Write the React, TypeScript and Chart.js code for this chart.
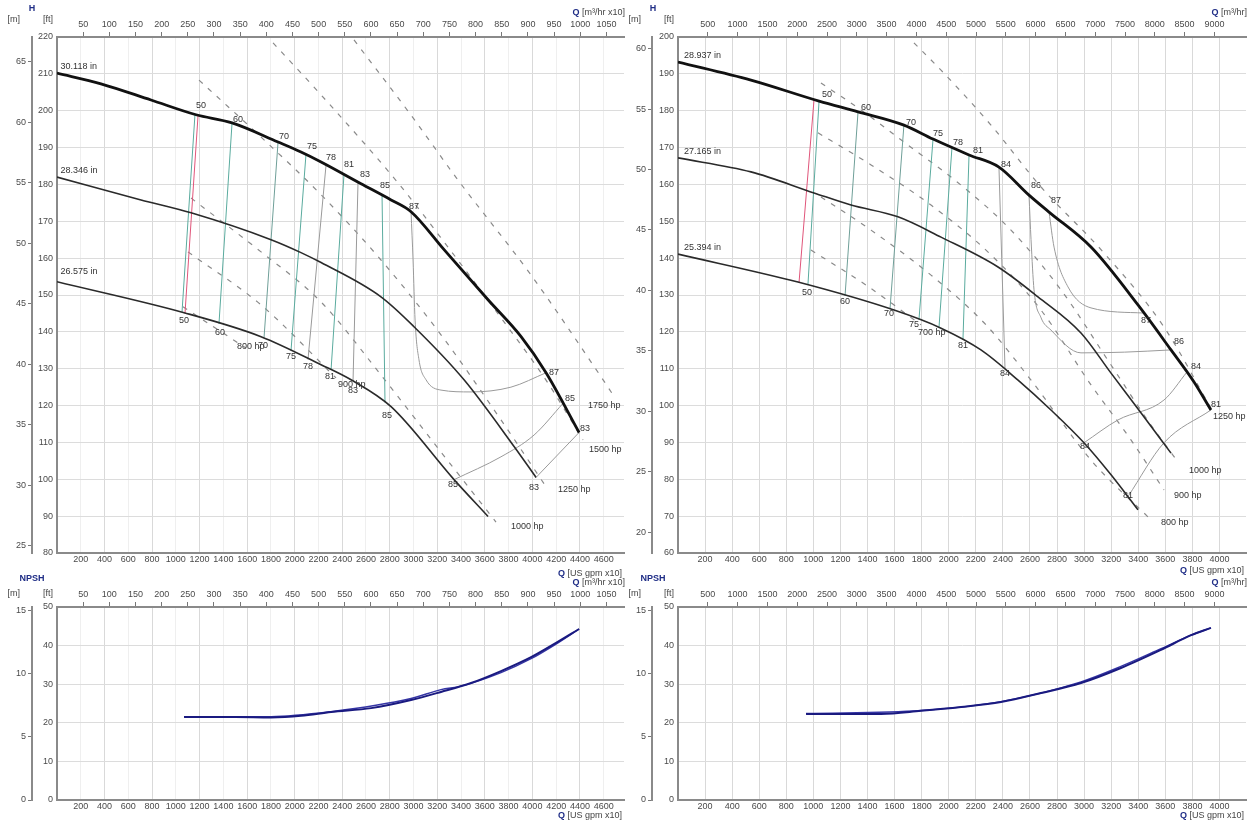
import React, { useEffect, useRef } from 'react';
import { Chart, registerables } from 'chart.js';

Chart.register(...registerables);

const FT_PER_M = 3.28084;
const GPM_PER_M3H = 4.4029;
const FONT = '"Liberation Sans", Arial, Helvetica, sans-serif';
const NAVY = '#1f2d86';

// ---------- tick labels ----------
const TL_GPM_TICKS = [200, 400, 600, 800, 1000, 1200, 1400, 1600, 1800, 2000, 2200, 2400, 2600, 2800, 3000, 3200, 3400, 3600, 3800, 4000, 4200, 4400, 4600];
const TL_M3H_TICKS = [50, 100, 150, 200, 250, 300, 350, 400, 450, 500, 550, 600, 650, 700, 750, 800, 850, 900, 950, 1000, 1050];
const TL_FT_TICKS = [80, 90, 100, 110, 120, 130, 140, 150, 160, 170, 180, 190, 200, 210, 220];
const TL_M_TICKS = [25, 30, 35, 40, 45, 50, 55, 60, 65];
const TR_GPM_TICKS = [200, 400, 600, 800, 1000, 1200, 1400, 1600, 1800, 2000, 2200, 2400, 2600, 2800, 3000, 3200, 3400, 3600, 3800, 4000];
const TR_M3H_TICKS = [500, 1000, 1500, 2000, 2500, 3000, 3500, 4000, 4500, 5000, 5500, 6000, 6500, 7000, 7500, 8000, 8500, 9000];
const TR_FT_TICKS = [60, 70, 80, 90, 100, 110, 120, 130, 140, 150, 160, 170, 180, 190, 200];
const TR_M_TICKS = [20, 25, 30, 35, 40, 45, 50, 55, 60];
const NP_FT_TICKS = [0, 10, 20, 30, 40, 50];
const NP_M_TICKS = [0, 5, 10, 15];

// ---------- top-left: impeller curves (Q = US gpm x10, H = ft) ----------
const TL_Q_D1 = [0, 370, 791, 1170, 1473, 1860, 2053, 2222, 2558, 2811, 2979, 3257, 3627, 3905, 4115, 4393];
const TL_H_D1 = [210.2, 207.3, 202.9, 198.9, 196.7, 191.5, 188.8, 186.1, 180.2, 175.8, 172.6, 162.3, 148.7, 138.7, 128.9, 112.7];
const TL_Q_D2 = [0, 707, 1128, 1801, 2053, 2222, 2726, 3004, 3425, 3846, 4031];
const TL_H_D2 = [182.0, 175.8, 172.3, 165.0, 161.5, 158.8, 149.5, 141.4, 127.0, 108.9, 100.5];
const TL_Q_D3 = [0, 1069, 1717, 2222, 2474, 2811, 3341, 3627];
const TL_H_D3 = [153.6, 145.2, 138.7, 131.1, 127.0, 119.7, 99.9, 89.9];
// efficiency lines
const TL_Q_RED = [1187, 1077]; const TL_H_RED = [198.8, 145.0];
const TL_Q_E50 = [1161, 1052]; const TL_H_E50 = [199.0, 145.4];
const TL_Q_E60 = [1473, 1363]; const TL_H_E60 = [196.7, 142.2];
const TL_Q_E70 = [1860, 1742]; const TL_H_E70 = [191.5, 138.4];
const TL_Q_E75 = [2095, 1969]; const TL_H_E75 = [188.1, 134.9];
const TL_Q_E78 = [2264, 2112]; const TL_H_E78 = [185.3, 132.5];
const TL_Q_E81 = [2415, 2306]; const TL_H_E81 = [182.7, 129.7];
const TL_Q_E83A = [2533, 2491]; const TL_H_E83A = [180.6, 126.7];
const TL_Q_E85A = [2735, 2760]; const TL_H_E85A = [177.1, 120.8];
const TL_Q_E87 = [2979, 2996, 3013, 3046, 3105, 3231, 3484, 3820, 4115];
const TL_H_E87 = [172.6, 159.5, 143.2, 132.4, 127.0, 124.2, 123.7, 125.0, 128.9];
const TL_Q_E83B = [4031, 4393]; const TL_H_E83B = [100.5, 112.7];
const TL_Q_E85B = [3341, 3736, 4014, 4258]; const TL_H_E85B = [99.9, 106.1, 112.0, 120.6];
// power lines
const TL_Q_P1750 = [2499, 2979, 3374, 3989, 4578, 4679]; const TL_H_P1750 = [219.2, 198.8, 181.2, 155.4, 127.8, 122.9];
const TL_Q_P1500 = [1818, 2222, 2870, 3290, 3736, 4115, 4426]; const TL_H_P1500 = [218.4, 204.3, 180.4, 163.0, 143.8, 126.9, 110.7];
const TL_Q_P1250 = [1195, 1742, 2222, 2726, 3231, 3736, 4123]; const TL_H_P1250 = [208.3, 192.1, 177.2, 159.5, 139.2, 116.1, 97.6];
const TL_Q_P1000 = [1128, 1717, 2222, 2726, 3231, 3694]; const TL_H_P1000 = [176.3, 161.7, 148.1, 128.3, 107.4, 88.4];
const TL_Q_P900 = [1102, 1717, 2348]; const TL_H_P900 = [161.7, 147.3, 127.5];
const TL_Q_P800 = [1060, 1590]; const TL_H_P800 = [146.8, 135.6];
const TL_LABELS: [string, number, number, CanvasTextAlign][] = [
  ['30.118 in', 30, 212.0, 'left'], ['28.346 in', 30, 183.8, 'left'], ['26.575 in', 30, 156.4, 'left'],
  ['50', 1212, 201.3, 'center'], ['60', 1523, 197.5, 'center'], ['70', 1910, 193.1, 'center'], ['75', 2146, 190.2, 'center'],
  ['78', 2306, 187.4, 'center'], ['81', 2457, 185.3, 'center'], ['83', 2592, 182.8, 'center'], ['85', 2760, 179.8, 'center'],
  ['87', 3004, 173.9, 'center'],
  ['50', 1069, 143.2, 'center'], ['60', 1372, 139.7, 'center'], ['70', 1734, 136.4, 'center'], ['75', 1969, 133.2, 'center'],
  ['78', 2112, 130.7, 'center'], ['81', 2297, 128.0, 'center'], ['83', 2491, 124.2, 'center'], ['85', 2777, 117.2, 'center'],
  ['85', 3332, 98.7, 'center'], ['83', 4014, 97.9, 'center'], ['83', 4443, 113.9, 'center'], ['85', 4317, 121.8, 'center'],
  ['87', 4182, 129.1, 'center'],
  ['800 hp', 1515, 135.9, 'left'], ['900 hp', 2365, 125.6, 'left'], ['1000 hp', 3820, 87.1, 'left'],
  ['1250 hp', 4216, 97.1, 'left'], ['1500 hp', 4477, 108.0, 'left'], ['1750 hp', 4468, 119.9, 'left'],
];

// ---------- top-right ----------
const TR_Q_D1 = [0, 539, 1042, 1330, 1669, 1884, 2150, 2371, 2593, 2741, 3051, 3398, 3642, 3812, 3937];
const TR_H_D1 = [193.2, 188.3, 182.6, 179.7, 176.1, 172.3, 168.0, 164.7, 157.1, 152.5, 143.0, 127.3, 115.1, 106.4, 98.8];
const TR_Q_D2 = [0, 539, 1005, 1278, 1625, 1943, 2364, 2659, 2977, 3199, 3421, 3642];
const TR_H_D2 = [167.2, 163.4, 157.7, 154.4, 151.2, 145.7, 137.6, 129.5, 119.7, 108.8, 98.0, 87.1];
const TR_Q_D3 = [0, 886, 1596, 1943, 2238, 2512, 2755, 2999, 3199, 3398];
const TR_H_D3 = [141.1, 133.5, 125.9, 121.0, 115.1, 106.9, 98.8, 89.9, 81.2, 71.7];
const TR_Q_RED = [1005, 894]; const TR_H_RED = [183.0, 133.4];
const TR_Q_E50 = [1042, 960]; const TR_H_E50 = [182.6, 132.8];
const TR_Q_E60 = [1330, 1234]; const TR_H_E60 = [179.7, 129.8];
const TR_Q_E70 = [1669, 1566]; const TR_H_E70 = [176.1, 126.2];
const TR_Q_E75 = [1884, 1780]; const TR_H_E75 = [172.3, 123.3];
const TR_Q_E78 = [2024, 1928]; const TR_H_E78 = [170.0, 121.2];
const TR_Q_E81 = [2150, 2105]; const TR_H_E81 = [168.0, 117.8];
const TR_Q_E84A = [2371, 2416]; const TR_H_E84A = [164.7, 109.8];
const TR_Q_E86 = [2593, 2608, 2630, 2680, 2755, 2977, 3300, 3642]; const TR_H_E86 = [157.1, 145.0, 131.4, 124.0, 120.5, 114.3, 114.5, 115.1];
const TR_Q_E87 = [2741, 2778, 2881, 3051, 3442]; const TR_H_E87 = [152.5, 143.0, 132.2, 126.5, 125.1];
const TR_Q_E84B = [2999, 3250, 3590, 3760]; const TR_H_E84B = [89.9, 96.1, 101.5, 109.1];
const TR_Q_E81B = [3324, 3590, 3937]; const TR_H_E81B = [75.3, 89.9, 98.8];
const TR_Q_P1250 = [1743, 1943, 2312, 2682, 3147, 3590, 3952]; const TR_H_P1250 = [198.4, 191.0, 176.1, 159.3, 141.4, 121.3, 98.3];
const TR_Q_P1000 = [1056, 1352, 1647, 2091, 2460, 2829, 3199, 3494, 3694]; const TR_H_P1000 = [187.5, 180.2, 172.1, 159.8, 147.6, 131.4, 111.0, 94.7, 84.7];
const TR_Q_P900 = [1034, 1426, 1869, 2312, 2682, 3051, 3346, 3590]; const TR_H_P900 = [174.0, 165.3, 154.4, 140.9, 125.9, 105.6, 90.7, 77.1];
const TR_Q_P800 = [1056, 1426, 1869, 2275, 2608, 3051, 3494]; const TR_H_P800 = [156.6, 147.6, 135.4, 121.9, 106.9, 85.2, 69.0];
const TR_Q_P700 = [982, 1389, 1795]; const TR_H_P700 = [142.2, 132.7, 121.9];
const TR_LABELS: [string, number, number, CanvasTextAlign][] = [
  ['28.937 in', 44, 195.0, 'left'], ['27.165 in', 44, 169.0, 'left'], ['25.394 in', 44, 143.0, 'left'],
  ['50', 1100, 184.5, 'center'], ['60', 1389, 181.0, 'center'], ['70', 1721, 176.9, 'center'], ['75', 1921, 173.7, 'center'],
  ['78', 2068, 171.5, 'center'], ['81', 2216, 169.1, 'center'], ['84', 2423, 165.3, 'center'], ['86', 2645, 159.6, 'center'],
  ['87', 2792, 155.5, 'center'],
  ['50', 953, 130.8, 'center'], ['60', 1234, 128.1, 'center'], ['70', 1559, 124.9, 'center'], ['75', 1743, 121.9, 'center'],
  ['81', 2105, 116.4, 'center'], ['84', 2416, 108.8, 'center'], ['87', 3457, 123.2, 'center'], ['86', 3701, 117.3, 'center'],
  ['84', 3827, 110.5, 'center'], ['84', 3006, 89.0, 'center'], ['81', 3974, 100.2, 'center'], ['81', 3324, 75.7, 'center'],
  ['700 hp', 1773, 119.7, 'left'], ['1250 hp', 3952, 96.9, 'left'], ['1000 hp', 3775, 82.5, 'left'],
  ['900 hp', 3664, 75.7, 'left'], ['800 hp', 3568, 68.4, 'left'],
];

// ---------- NPSH (ft) ----------
const BL_Q_N1 = [1069, 1500, 1801, 2053, 2306, 2643, 2979, 3231, 3484, 3736, 3989, 4199, 4393];
const BL_H_N1 = [21.5, 21.5, 21.4, 21.8, 22.8, 23.8, 25.9, 28.0, 30.3, 33.4, 37.0, 40.7, 44.3];
const BL_Q_N2 = [1069, 1801, 2306, 2979, 3231, 3400, 3736, 3989, 4199, 4393];
const BL_H_N2 = [21.6, 21.6, 22.9, 26.3, 28.6, 29.5, 33.0, 36.6, 40.4, 44.3];
const BR_Q_N1 = [946, 1500, 1795, 2091, 2386, 2682, 2977, 3272, 3568, 3790, 3937];
const BR_H_N1 = [22.3, 22.3, 23.1, 24.1, 25.4, 27.7, 30.3, 34.2, 38.9, 42.7, 44.6];
const BR_Q_N2 = [946, 1795, 2386, 2977, 3272, 3568, 3790, 3937];
const BR_H_N2 = [22.4, 23.2, 25.5, 30.6, 34.6, 39.2, 42.7, 44.6];

// ---------- styles ----------
const C_MAIN = '#111111';
const C_CURVE = '#2a2a2a';
const C_TEAL = '#5aab9e';
const C_GREY = '#9a9a9a';
const C_RED = '#e0557a';
const C_PWR = '#8a8a8a';
const DASH = [5, 7];

type S = { q: number[]; h: number[]; c: string; w: number; d?: number[] };

const TL_SERIES: S[] = [
  { q: TL_Q_D1, h: TL_H_D1, c: C_MAIN, w: 2.8 },
  { q: TL_Q_D2, h: TL_H_D2, c: C_CURVE, w: 1.6 },
  { q: TL_Q_D3, h: TL_H_D3, c: C_CURVE, w: 1.6 },
  { q: TL_Q_E87, h: TL_H_E87, c: C_GREY, w: 1 },
  { q: TL_Q_E85B, h: TL_H_E85B, c: C_GREY, w: 1 },
  { q: TL_Q_E83B, h: TL_H_E83B, c: C_GREY, w: 1 },
  { q: TL_Q_E85A, h: TL_H_E85A, c: C_TEAL, w: 1 },
  { q: TL_Q_E83A, h: TL_H_E83A, c: C_GREY, w: 1 },
  { q: TL_Q_E81, h: TL_H_E81, c: C_TEAL, w: 1 },
  { q: TL_Q_E78, h: TL_H_E78, c: C_GREY, w: 1 },
  { q: TL_Q_E75, h: TL_H_E75, c: C_TEAL, w: 1 },
  { q: TL_Q_E70, h: TL_H_E70, c: '#6f9f98', w: 1 },
  { q: TL_Q_E60, h: TL_H_E60, c: C_TEAL, w: 1 },
  { q: TL_Q_E50, h: TL_H_E50, c: C_TEAL, w: 1 },
  { q: TL_Q_RED, h: TL_H_RED, c: C_RED, w: 1 },
  { q: TL_Q_P1750, h: TL_H_P1750, c: C_PWR, w: 1.2, d: DASH },
  { q: TL_Q_P1500, h: TL_H_P1500, c: C_PWR, w: 1.2, d: DASH },
  { q: TL_Q_P1250, h: TL_H_P1250, c: C_PWR, w: 1.2, d: DASH },
  { q: TL_Q_P1000, h: TL_H_P1000, c: C_PWR, w: 1.2, d: DASH },
  { q: TL_Q_P900, h: TL_H_P900, c: C_PWR, w: 1.2, d: DASH },
  { q: TL_Q_P800, h: TL_H_P800, c: C_PWR, w: 1.2, d: DASH },
];

const TR_SERIES: S[] = [
  { q: TR_Q_D1, h: TR_H_D1, c: C_MAIN, w: 2.8 },
  { q: TR_Q_D2, h: TR_H_D2, c: C_CURVE, w: 1.6 },
  { q: TR_Q_D3, h: TR_H_D3, c: C_CURVE, w: 1.6 },
  { q: TR_Q_E87, h: TR_H_E87, c: C_GREY, w: 1 },
  { q: TR_Q_E86, h: TR_H_E86, c: C_GREY, w: 1 },
  { q: TR_Q_E84B, h: TR_H_E84B, c: C_GREY, w: 1 },
  { q: TR_Q_E81B, h: TR_H_E81B, c: C_GREY, w: 1 },
  { q: TR_Q_E84A, h: TR_H_E84A, c: C_GREY, w: 1 },
  { q: TR_Q_E81, h: TR_H_E81, c: C_TEAL, w: 1 },
  { q: TR_Q_E78, h: TR_H_E78, c: C_TEAL, w: 1 },
  { q: TR_Q_E75, h: TR_H_E75, c: C_TEAL, w: 1 },
  { q: TR_Q_E70, h: TR_H_E70, c: '#6f9f98', w: 1 },
  { q: TR_Q_E60, h: TR_H_E60, c: '#6f9f98', w: 1 },
  { q: TR_Q_E50, h: TR_H_E50, c: C_TEAL, w: 1 },
  { q: TR_Q_RED, h: TR_H_RED, c: C_RED, w: 1 },
  { q: TR_Q_P1250, h: TR_H_P1250, c: C_PWR, w: 1.2, d: DASH },
  { q: TR_Q_P1000, h: TR_H_P1000, c: C_PWR, w: 1.2, d: DASH },
  { q: TR_Q_P900, h: TR_H_P900, c: C_PWR, w: 1.2, d: DASH },
  { q: TR_Q_P800, h: TR_H_P800, c: C_PWR, w: 1.2, d: DASH },
  { q: TR_Q_P700, h: TR_H_P700, c: C_PWR, w: 1.2, d: DASH },
];

const BL_SERIES: S[] = [
  { q: BL_Q_N1, h: BL_H_N1, c: '#1a1a80', w: 2 },
  { q: BL_Q_N2, h: BL_H_N2, c: '#3535a5', w: 1.4 },
];
const BR_SERIES: S[] = [
  { q: BR_Q_N1, h: BR_H_N1, c: '#1a1a80', w: 2 },
  { q: BR_Q_N2, h: BR_H_N2, c: '#3535a5', w: 1.4 },
];

type Panel = {
  left: number; top: number; width: number; height: number;
  mW: number; ftW: number; topH: number; botH: number; padR: number;
  qMax: number; hMin: number; hMax: number; m3hFactor: number;
  gpmTicks: number[]; m3hTicks: number[]; ftTicks: number[]; mTicks: number[];
  series: S[]; labels: [string, number, number, CanvasTextAlign][];
  yTitle: string; topUnit: string; unitDy: number; botDy: number; altGrid: boolean;
};

const PANELS: Panel[] = [
  {
    left: 0, top: 0, width: 626, height: 583, mW: 32, ftW: 25, topH: 37, botH: 30, padR: 2,
    qMax: 4771, hMin: 80, hMax: 220, m3hFactor: GPM_PER_M3H,
    gpmTicks: TL_GPM_TICKS, m3hTicks: TL_M3H_TICKS, ftTicks: TL_FT_TICKS, mTicks: TL_M_TICKS,
    series: TL_SERIES, labels: TL_LABELS, yTitle: 'H', topUnit: ' [m³/hr x10]', unitDy: 17, botDy: 21, altGrid: true,
  },
  {
    left: 626, top: 0, width: 628, height: 583, mW: 26, ftW: 26, topH: 37, botH: 30, padR: 8,
    qMax: 4196, hMin: 60, hMax: 200, m3hFactor: GPM_PER_M3H / 10,
    gpmTicks: TR_GPM_TICKS, m3hTicks: TR_M3H_TICKS, ftTicks: TR_FT_TICKS, mTicks: TR_M_TICKS,
    series: TR_SERIES, labels: TR_LABELS, yTitle: 'H', topUnit: ' [m³/hr]', unitDy: 17, botDy: 18, altGrid: false,
  },
  {
    left: 0, top: 575, width: 626, height: 247, mW: 32, ftW: 25, topH: 32, botH: 22, padR: 2,
    qMax: 4771, hMin: 0, hMax: 50, m3hFactor: GPM_PER_M3H,
    gpmTicks: TL_GPM_TICKS, m3hTicks: TL_M3H_TICKS, ftTicks: NP_FT_TICKS, mTicks: NP_M_TICKS,
    series: BL_SERIES, labels: [], yTitle: 'NPSH', topUnit: ' [m³/hr x10]', unitDy: 13, botDy: 16, altGrid: true,
  },
  {
    left: 626, top: 575, width: 628, height: 247, mW: 26, ftW: 26, topH: 32, botH: 22, padR: 8,
    qMax: 4196, hMin: 0, hMax: 50, m3hFactor: GPM_PER_M3H / 10,
    gpmTicks: TR_GPM_TICKS, m3hTicks: TR_M3H_TICKS, ftTicks: NP_FT_TICKS, mTicks: NP_M_TICKS,
    series: BR_SERIES, labels: [], yTitle: 'NPSH', topUnit: ' [m³/hr]', unitDy: 13, botDy: 16, altGrid: false,
  },
];

function toDataset(s: S) {
  return {
    data: s.q.map((q, i) => ({ x: q, y: s.h[i] })),
    showLine: true,
    borderColor: s.c,
    backgroundColor: s.c,
    borderWidth: s.w,
    borderDash: s.d || [],
    pointRadius: 0,
    pointHoverRadius: 0,
    cubicInterpolationMode: 'monotone',
    xAxisID: 'x',
    yAxisID: 'y',
  };
}

function drawQTitle(ctx: CanvasRenderingContext2D, unit: string, x: number, y: number) {
  ctx.font = `9px ${FONT}`;
  const w = ctx.measureText(unit).width;
  ctx.textAlign = 'left';
  ctx.fillStyle = '#444';
  ctx.fillText(unit, x - w, y);
  ctx.font = `bold 9px ${FONT}`;
  ctx.fillStyle = NAVY;
  ctx.textAlign = 'right';
  ctx.fillText('Q', x - w, y);
}

function makePlugin(p: Panel) {
  return {
    id: 'pumpText',
    afterDatasetsDraw(chart: any) {
      const { ctx, scales } = chart;
      ctx.save();
      ctx.font = `9px ${FONT}`;
      ctx.fillStyle = '#333';
      ctx.textBaseline = 'middle';
      for (const [t, q, h, al] of p.labels) {
        ctx.textAlign = al;
        ctx.fillText(t, scales.x.getPixelForValue(q), scales.y.getPixelForValue(h));
      }
      ctx.restore();
    },
    afterDraw(chart: any) {
      const { ctx, chartArea: a } = chart;
      ctx.save();
      ctx.textBaseline = 'middle';
      ctx.font = `bold 9px ${FONT}`;
      ctx.fillStyle = NAVY;
      ctx.textAlign = 'center';
      ctx.fillText(p.yTitle, a.left - 25, a.top - 28);
      ctx.font = `9px ${FONT}`;
      ctx.fillStyle = '#444';
      ctx.textAlign = 'right';
      ctx.fillText('[m]', a.left - 37, a.top - p.unitDy);
      ctx.fillText('[ft]', a.left - 4, a.top - p.unitDy);
      drawQTitle(ctx, p.topUnit, a.right + 1, a.top - 24);
      drawQTitle(ctx, ' [US gpm x10]', a.right - 2, a.bottom + p.botDy);
      ctx.restore();
    },
  };
}

function buildConfig(p: Panel): any {
  const tickFont = { family: FONT, size: 9 };
  const tickColor = '#4a4a4a';
  const border = { display: true, color: '#8a8a8a', width: 2 };
  const fmt = (v: any) => String(v);
  return {
    type: 'scatter',
    data: { datasets: p.series.map(toDataset) },
    options: {
      animation: false,
      responsive: false,
      maintainAspectRatio: false,
      devicePixelRatio: 1,
      events: [],
      layout: { padding: { left: 0, top: 0, right: p.padR, bottom: 0 } },
      plugins: { legend: { display: false }, tooltip: { enabled: false }, title: { display: false } },
      scales: {
        x: {
          type: 'linear', position: 'bottom', min: 0, max: p.qMax,
          afterBuildTicks: (s: any) => { s.ticks = p.gpmTicks.map((v) => ({ value: v })); },
          afterFit: (s: any) => { s.height = p.botH; },
          ticks: { font: tickFont, color: tickColor, padding: 1, autoSkip: false, maxRotation: 0, callback: fmt },
          grid: {
            drawTicks: false, lineWidth: 1,
            color: (c: any) => (p.altGrid && c.tick && c.tick.value % 400 !== 0 ? '#efefef' : '#d9d9d9'),
          },
          border,
        },
        xTop: {
          type: 'linear', position: 'top', min: 0, max: p.qMax / p.m3hFactor,
          afterBuildTicks: (s: any) => { s.ticks = p.m3hTicks.map((v) => ({ value: v })); },
          afterFit: (s: any) => { s.height = p.topH; },
          ticks: { font: tickFont, color: tickColor, padding: 2, autoSkip: false, maxRotation: 0, callback: fmt },
          grid: { drawOnChartArea: false, drawTicks: true, tickLength: 5, tickColor: '#777' },
          border,
        },
        y: {
          type: 'linear', position: 'left', weight: 0, min: p.hMin, max: p.hMax,
          afterBuildTicks: (s: any) => { s.ticks = p.ftTicks.map((v) => ({ value: v })); },
          afterFit: (s: any) => { s.width = p.ftW; },
          ticks: { font: tickFont, color: tickColor, padding: 4, autoSkip: false, callback: fmt },
          grid: { drawTicks: false, color: '#dcdcdc', lineWidth: 1 },
          border,
        },
        yM: {
          type: 'linear', position: 'left', weight: 1, min: p.hMin / FT_PER_M, max: p.hMax / FT_PER_M,
          afterBuildTicks: (s: any) => { s.ticks = p.mTicks.map((v) => ({ value: v })); },
          afterFit: (s: any) => { s.width = p.mW; },
          ticks: { font: tickFont, color: tickColor, padding: 2, autoSkip: false, callback: fmt },
          grid: { drawOnChartArea: false, drawTicks: true, tickLength: 4, tickColor: '#777' },
          border,
        },
      },
    },
    plugins: [makePlugin(p)],
  };
}

function PanelChart({ p }: { p: Panel }) {
  const ref = useRef<HTMLCanvasElement>(null);
  useEffect(() => {
    const chart = new Chart(ref.current as HTMLCanvasElement, buildConfig(p));
    return () => chart.destroy();
  }, [p]);
  return (
    <canvas
      ref={ref}
      width={p.width}
      height={p.height}
      style={{ position: 'absolute', left: p.left, top: p.top, width: p.width, height: p.height }}
    />
  );
}

export default function App() {
  return (
    <div style={{ position: 'fixed', left: 0, top: 0, width: 1254, height: 822, background: '#ffffff', overflow: 'hidden' }}>
      {PANELS.map((p, i) => (
        <PanelChart key={i} p={p} />
      ))}
    </div>
  );
}
